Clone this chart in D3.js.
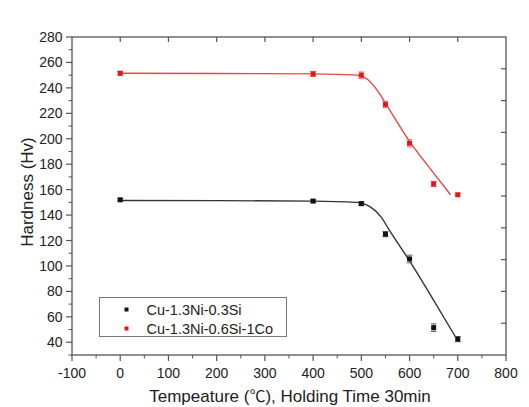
<!DOCTYPE html>
<html>
<head>
<meta charset="utf-8">
<script src="https://cdn.jsdelivr.net/npm/d3@7"></script>
<style>
  body { margin: 0; background: #fff; }
  svg { font-family: "Liberation Sans", Arial, sans-serif; }
</style>
</head>
<body>
<svg></svg>
<script>
///////////////////////////////////////////
// Data
var temps = [0, 400, 500, 550, 600, 650, 700];

var blackName = "Cu-1.3Ni-0.3Si";
var blackHv   = [152, 151, 149, 125, 105.5, 51.5, 42.5];
var blackErr  = [1, 1, 1.5, 2, 3, 3, 2];

var redName = "Cu-1.3Ni-0.6Si-1Co";
var redHv   = [251.5, 251, 250, 227, 196.5, 164.5, 156];
var redErr  = [1.5, 2, 2.5, 2.5, 3, 2, 1];

// fitted curves
var blackFitT  = [0, 400, 490, 520, 540, 560, 600, 650, 698];
var blackFitHv = [151.5, 151, 150, 146, 139, 127, 104, 73, 42.5];
var redFitT    = [0, 400, 490, 515, 535, 550, 600, 650, 685];
var redFitHv   = [251.5, 251, 250, 246, 237, 228, 198, 173, 156];

var xTicks = [-100, 0, 100, 200, 300, 400, 500, 600, 700, 800];
var yTicks = [40, 60, 80, 100, 120, 140, 160, 180, 200, 220, 240, 260, 280];
var rightTicks = [255, 230, 205, 180, 155, 130, 105, 80, 55];

///////////////////////////////////////////
// Layout
var svgWidth = 529, svgHeight = 407;
var margin = {top: 37, right: 23, bottom: 52, left: 72},
    width = svgWidth - margin.left - margin.right,
    height = svgHeight - margin.top - margin.bottom;

var axisColor = "#555", textColor = "#222";
var redColor = "#e8141c", redLine = "#e64848", blackColor = "#111", blackLine = "#333";

var svg = d3.select("svg").attr("width", svgWidth).attr("height", svgHeight);
var g = svg.append("g").attr("transform", "translate(" + [margin.left, margin.top] + ")");

var x = d3.scaleLinear().domain([-100, 800]).range([0, width]);
var y = d3.scaleLinear().domain([30, 280]).range([height, 0]);

///////////////////////////////////////////
// Frame
g.append("rect").attr("width", width).attr("height", height)
  .attr("fill", "none").attr("stroke", axisColor).attr("stroke-width", 1.3);

// bottom axis: major + minor outward
var xMinor = d3.range(-50, 800, 100);
g.selectAll(".xminor").data(xMinor).enter().append("line")
  .attr("x1", d => x(d)).attr("x2", d => x(d))
  .attr("y1", height).attr("y2", height + 3.5)
  .attr("stroke", axisColor).attr("stroke-width", 1);
g.selectAll(".xmajor").data(xTicks).enter().append("line")
  .attr("x1", d => x(d)).attr("x2", d => x(d))
  .attr("y1", height).attr("y2", height + 6)
  .attr("stroke", axisColor).attr("stroke-width", 1.2);
g.selectAll(".xlab").data(xTicks).enter().append("text")
  .attr("x", d => x(d)).attr("y", height + 23)
  .attr("text-anchor", "middle").attr("font-size", 14).attr("fill", textColor)
  .text(d => d);

// top axis: major inward
g.selectAll(".xtop").data(xTicks.slice(1, -1)).enter().append("line")
  .attr("x1", d => x(d)).attr("x2", d => x(d))
  .attr("y1", 0).attr("y2", 5)
  .attr("stroke", axisColor).attr("stroke-width", 1.2);

// left axis: major + minor outward
var yMinor = d3.range(30, 281, 20);
g.selectAll(".yminor").data(yMinor).enter().append("line")
  .attr("x1", -3.5).attr("x2", 0)
  .attr("y1", d => y(d)).attr("y2", d => y(d))
  .attr("stroke", axisColor).attr("stroke-width", 1);
g.selectAll(".ymajor").data(yTicks).enter().append("line")
  .attr("x1", -6).attr("x2", 0)
  .attr("y1", d => y(d)).attr("y2", d => y(d))
  .attr("stroke", axisColor).attr("stroke-width", 1.2);
g.selectAll(".ylab").data(yTicks).enter().append("text")
  .attr("x", -9.5).attr("y", d => y(d) + 5)
  .attr("text-anchor", "end").attr("font-size", 14).attr("fill", textColor)
  .text(d => d);

// right axis: major inward
g.selectAll(".yright").data(rightTicks).enter().append("line")
  .attr("x1", width - 5).attr("x2", width)
  .attr("y1", d => y(d)).attr("y2", d => y(d))
  .attr("stroke", axisColor).attr("stroke-width", 1.2);

// axis titles
var xt = g.append("text").attr("x", width / 2 + 1).attr("y", height + 47)
  .attr("text-anchor", "middle").attr("font-size", 17).attr("fill", textColor);
xt.append("tspan").text("Tempeature (");
xt.append("tspan").attr("font-family", "'Noto Sans CJK SC', sans-serif").attr("font-size", 16).text("\u2103");
xt.append("tspan").text("), Holding Time 30min");
g.append("text")
  .attr("transform", "translate(" + [-39, height / 2 - 4] + ") rotate(-90)")
  .attr("text-anchor", "middle").attr("font-size", 17).attr("fill", textColor)
  .text("Hardness (Hv)");

///////////////////////////////////////////
// Fit curves
var line = d3.line().x(d => x(d[0])).y(d => y(d[1])).curve(d3.curveMonotoneX);
g.append("path").datum(d3.zip(redFitT, redFitHv)).attr("d", line)
  .attr("fill", "none").attr("stroke", redLine).attr("stroke-width", 1.4);
g.append("path").datum(d3.zip(blackFitT, blackFitHv)).attr("d", line)
  .attr("fill", "none").attr("stroke", blackLine).attr("stroke-width", 1.4);

// Points with error bars
function drawSeries(vals, errs, color, capColor) {
  var pts = temps.map((t, i) => ({t: t, v: vals[i], e: errs[i]}));
  var s = g.append("g");
  pts.forEach(function(d) {
    var cx = x(d.t), y0 = y(d.v - d.e), y1 = y(d.v + d.e);
    s.append("line").attr("x1", cx).attr("x2", cx).attr("y1", y0).attr("y2", y1)
      .attr("stroke", capColor).attr("stroke-width", 1);
    [y0, y1].forEach(function(yy) {
      s.append("line").attr("x1", cx - 3).attr("x2", cx + 3).attr("y1", yy).attr("y2", yy)
        .attr("stroke", capColor).attr("stroke-width", 1);
    });
    s.append("rect").attr("x", cx - 2.5).attr("y", y(d.v) - 2.5)
      .attr("width", 5).attr("height", 5).attr("fill", color);
  });
}
drawSeries(redHv, redErr, redColor, "#f07070");
drawSeries(blackHv, blackErr, blackColor, "#666");

///////////////////////////////////////////
// Legend
var lg = g.append("g").attr("transform", "translate(" + [99.5 - margin.left, 297.5 - margin.top] + ")");
lg.append("rect").attr("width", 187).attr("height", 39)
  .attr("fill", "#fff").attr("stroke", "#777").attr("stroke-width", 1);
[[blackName, blackColor], [redName, redColor]].forEach(function(d, i) {
  lg.append("rect").attr("x", 25).attr("y", 10 + i * 19).attr("width", 4).attr("height", 4)
    .attr("fill", d[1]);
  lg.append("text").attr("x", 47).attr("y", 17 + i * 19)
    .attr("font-size", 14.5).attr("fill", textColor).text(d[0]);
});
</script>
</body>
</html>
